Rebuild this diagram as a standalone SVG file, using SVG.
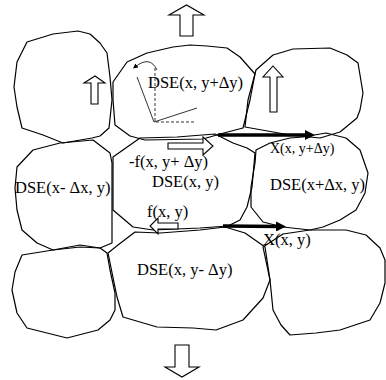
<svg xmlns="http://www.w3.org/2000/svg" width="386" height="380" viewBox="0 0 386 380">
<style>
.cell{fill:none;stroke:#000;stroke-width:1.2;stroke-linejoin:round}
.hollow{fill:#fff;stroke:#000;stroke-width:1.1}
.thick{stroke:#000;stroke-width:3.6;fill:none}
.lbl{font-family:"Liberation Serif","Times New Roman",serif;font-size:16.5px;fill:#000}
.sm{font-size:14px}
.thin{stroke:#000;stroke-width:0.8;fill:none}
.dash{stroke:#000;stroke-width:0.8;fill:none;stroke-dasharray:3 2}
</style>
<defs>
<marker id="bh" viewBox="0 0 10 10" refX="4" refY="5" markerWidth="10" markerHeight="10" markerUnits="userSpaceOnUse" orient="auto">
<path d="M0,0 L10,5 L0,10 z" fill="#000"/>
</marker>
<marker id="sh" viewBox="0 0 6 6" refX="3" refY="3" markerWidth="5" markerHeight="5" markerUnits="userSpaceOnUse" orient="auto">
<path d="M0,0 L6,3 L0,6 z" fill="#000"/>
</marker>
</defs>
<rect width="386" height="380" fill="#fff"/>

<g id="cell-tl">
<polygon class="cell" points="27,42 53,34 78,31 90,34 100,43 107,53 110,77 112,100 109,128 100,136 92,138 63,143 43,135 22,128 17,107 14,87 17,62"/>
<polygon class="hollow" points="91,104 98,104 98,83 105,83 95,76 84,83 91,83"/>
</g>

<g id="cell-tm">
<polygon class="cell" points="113,82 127,62 147,53 173,47 190,45 207,46 227,48 240,57 255,74 250,100 243,128 220,134 203,139 145,140 130,136 115,125 113,100"/>
<path class="thin" d="M137,77 L154,122 L197,108"/>
<path class="dash" d="M155,68 L155,122 L195,122"/>
<path class="thin" d="M157,70 Q150,55 135,67" marker-end="url(#sh)"/>
<text class="lbl" x="148" y="88">DSE(x, y+Δy)</text>
</g>

<g id="cell-tr">
<polygon class="cell" points="256,70 273,55 293,49 330,48 347,55 358,63 363,93 360,110 357,118 340,132 320,138 290,135 262,130 245,127 248,100"/>
<polygon class="hollow" points="270,112 277,112 277,77 283,77 273,66 263,77 270,77"/>
</g>

<g id="cell-ml">
<polygon class="cell" points="33,150 60,143 93,140 110,153 112,163 112,213 112,243 100,248 80,247 53,250 37,243 22,230 17,210 15,188 17,167"/>
<text class="lbl" x="15" y="193">DSE(x- Δx, y)</text>
</g>

<g id="cell-c">
<polygon class="cell" points="140,138 177,137 215,134 233,143 247,148 255,153 252,187 247,207 240,220 228,226 200,228 153,230 133,227 113,210 113,157"/>
<polygon class="hollow" points="168,143 203,143 203,137 213,146 203,155 203,149 168,149"/>
<polygon class="hollow" points="178,223 158,223 158,218 150,226 158,234 158,229 178,229"/>
<text class="lbl" x="129" y="167">-f(x, y+ Δy)</text>
<text class="lbl" x="152" y="187">DSE(x, y)</text>
<text class="lbl" x="147" y="217">f(x, y)</text>
</g>

<g id="cell-mr">
<polygon class="cell" points="256,150 270,143 290,138 303,137 326,133 346,138 360,150 368,173 365,193 356,210 340,220 323,227 310,230 283,227 263,222 251,207 251,187 255,163"/>
<text class="lbl" x="270" y="190">DSE(x+Δx, y)</text>
<text class="lbl sm" x="270" y="153">X(x, y+Δy)</text>
<text class="lbl" x="263" y="245">X(x, y)</text>
</g>

<g id="cell-bl">
<polygon class="cell" points="22,255 53,250 80,245 100,248 107,253 110,270 115,293 115,310 110,320 98,330 67,338 27,328 17,313 12,290 15,272"/>
</g>

<g id="cell-bm">
<polygon class="cell" points="108,253 118,245 135,232 160,233 200,230 225,227 245,233 265,247 270,280 263,298 243,320 216,330 193,328 157,327 123,317 117,297"/>
<text class="lbl" x="137" y="275">DSE(x, y- Δy)</text>
</g>

<g id="cell-br">
<polygon class="cell" points="263,247 283,234 310,230 346,230 366,235 380,248 385,260 385,283 380,303 370,320 340,330 316,333 290,335 281,325 273,310 270,280"/>
</g>

<g id="connectors">
<polygon class="hollow" points="180,36 193,36 193,15 204,15 186.5,5 169,15 180,15"/>
<polygon class="hollow" points="175,345 189,345 189,367 199,367 182,377 165,367 175,367"/>
<line class="thick" x1="218" y1="135" x2="309" y2="135" marker-end="url(#bh)"/>
<line class="thick" x1="223" y1="226" x2="280" y2="226.5" marker-end="url(#bh)"/>
</g>
</svg>
